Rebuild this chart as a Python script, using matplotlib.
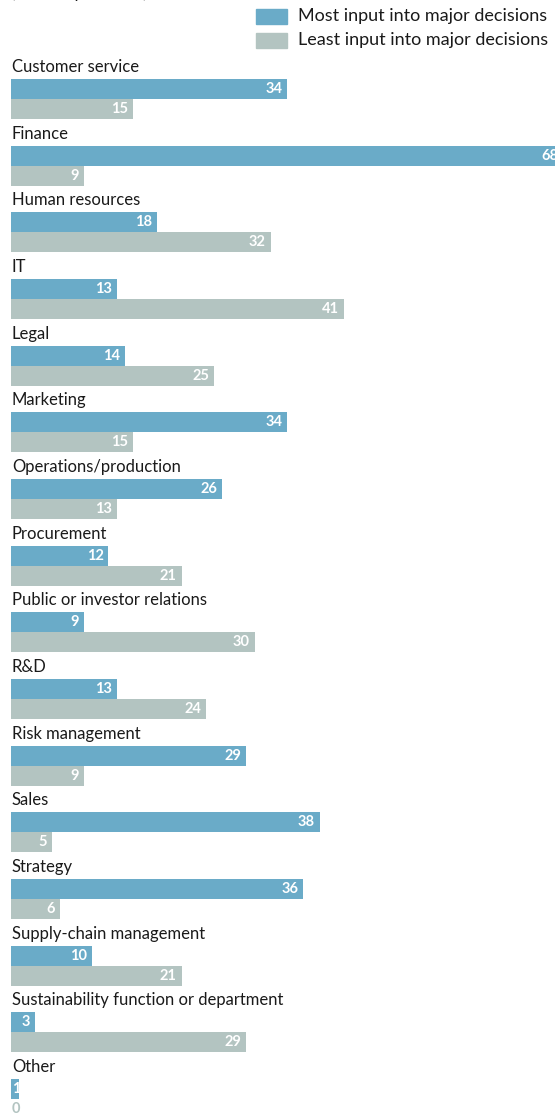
import matplotlib.pyplot as plt
from matplotlib.patches import Rectangle

plt.rcParams['font.family'] = ['Lato', 'DejaVu Sans']

categories = ['Customer service', 'Finance', 'Human resources', 'IT', 'Legal',
              'Marketing', 'Operations/production', 'Procurement',
              'Public or investor relations', 'R&D', 'Risk management', 'Sales',
              'Strategy', 'Supply-chain management',
              'Sustainability function or department', 'Other']
most_input = [34, 68, 18, 13, 14, 34, 26, 12, 9, 13, 29, 38, 36, 10, 3, 1]
least_input = [15, 9, 32, 41, 25, 15, 13, 21, 30, 24, 9, 5, 6, 21, 29, 0]
series_names = ['Most input into major decisions', 'Least input into major decisions']

BLUE = '#6aabc8'
GREY = '#b3c4c1'

W, H = 555, 1113
px_per_unit = 8.12
left = 11
pitch = 66.67
first_top = 79
bar_h = 20

fig = plt.figure(figsize=(W / 100, H / 100), dpi=100)
fig.patch.set_facecolor('white')
ax = fig.add_axes([left / W, 0, 1 - left / W, 1])
ax.set_xlim(0, (W - left) / px_per_unit)
ax.set_ylim(H, 0)
ax.axis('off')

tops = [first_top + i * pitch for i in range(len(categories))]
ax.barh(tops, most_input, height=bar_h, align='edge', color=BLUE, lw=0)
ax.barh([t + bar_h for t in tops], least_input, height=bar_h, align='edge',
        color=GREY, lw=0)

pad = 5 / px_per_unit
for i, name in enumerate(categories):
    top = tops[i]
    ax.text(0.1, top - 7, name, fontsize=12, color='#1a1a1a', va='baseline', ha='left')
    for val, y, col in [(most_input[i], top + bar_h / 2, BLUE),
                        (least_input[i], top + 1.5 * bar_h, GREY)]:
        if val == 0:
            ax.text(0.1, y, str(val), fontsize=10.5, fontweight='bold', color=col,
                    va='center', ha='left')
        elif val < 2:
            ax.text(0.1, y, str(val), fontsize=10.5, fontweight='bold', color='white',
                    va='center', ha='left')
        else:
            ax.text(val - pad, y, str(val), fontsize=10.5, fontweight='bold',
                    color='white', va='center', ha='right', clip_on=False)

# legend drawn in pixel space
def px(x, y):
    return x / W, 1 - y / H

for k, (name, col) in enumerate(zip(series_names, [BLUE, GREY])):
    y0 = 9 + k * 24
    fig.patches.append(Rectangle(px(256, y0 + 15), 31 / W, 15 / H, color=col,
                                 transform=fig.transFigure, figure=fig))
    fig.text(*px(298, y0 + 7.5), name, fontsize=13, color='#1a1a1a',
             va='center', ha='left')

fig.text(*px(11, -2), '(% of respondents)', fontsize=12, color='#1a1a1a',
         va='baseline', ha='left')

fig.savefig('out.png', dpi=100)
